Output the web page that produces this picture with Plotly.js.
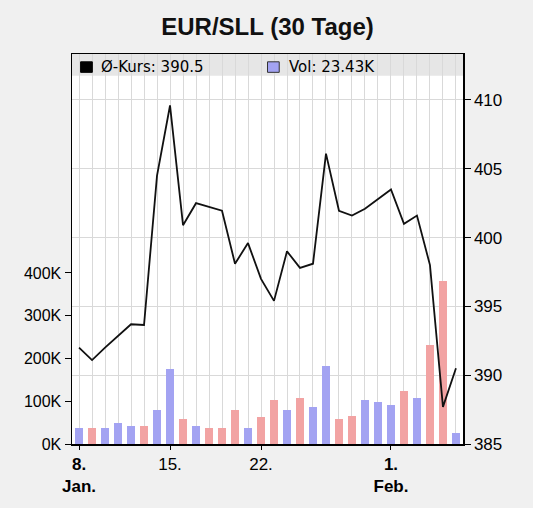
<!DOCTYPE html>
<html>
<head>
<meta charset="utf-8">
<script src="https://cdn.plot.ly/plotly-3.0.1.min.js"></script>
<style>
  body { margin: 0; background: #f0f0f0; }
  #plotly { width: 533px; height: 508px; }
</style>
</head>
<body>
<div id="plotly"></div>
<script>
var days = [
  '2010-01-08', '2010-01-09', '2010-01-10', '2010-01-11', '2010-01-12',
  '2010-01-13', '2010-01-14', '2010-01-15', '2010-01-16', '2010-01-17',
  '2010-01-18', '2010-01-19', '2010-01-20', '2010-01-21', '2010-01-22',
  '2010-01-23', '2010-01-24', '2010-01-25', '2010-01-26', '2010-01-27',
  '2010-01-28', '2010-01-29', '2010-01-30', '2010-01-31', '2010-02-01',
  '2010-02-02', '2010-02-03', '2010-02-04', '2010-02-05', '2010-02-06'
];

var kurs = [
  392.0, 391.1, 392.0, 392.85, 393.7, 393.65, 404.5, 409.6, 400.9, 402.5,
  402.2, 401.95, 398.1, 399.6, 397.0, 395.4, 399.0, 397.8, 398.1, 406.1,
  401.95, 401.6, 402.1, 402.8, 403.5, 401.0, 401.6, 398.0, 387.7, 390.5
];

var vol = [
  36700, 36700, 36700, 49900, 42000, 42000, 78800, 174600, 57700, 42000,
  37400, 37400, 78800, 36700, 62400, 103700, 78800, 107600, 87300, 182500,
  57700, 66300, 103700, 99000, 91200, 124000, 107600, 232300, 382000, 25000
];

var tickDays = ['2010-01-08', '2010-01-15', '2010-01-22', '2010-02-01'];
var tickText = ['<b>8.</b><br><b>Jan.</b>', '15.<br> ', '22.<br> ', '<b>1.</b><br><b>Feb.</b>'];

var kursLabel = 'Ø-Kurs: 390.5';
var volLabel = 'Vol: 23.43K';

// bar colour follows the day's price move
var barColors = kurs.map(function (k, i) {
  return (i === 0 || k > kurs[i - 1]) ? '#a3a3f2' : '#f2a3a3';
});

var volTrace = {
  x: days,
  y: vol,
  type: 'bar',
  width: 0.6 * 86400000,
  marker: { color: barColors },
  yaxis: 'y',
  hoverinfo: 'skip'
};

var kursTrace = {
  x: days,
  y: kurs,
  type: 'scatter',
  mode: 'lines',
  line: { color: '#111111', width: 1.8 },
  yaxis: 'y2',
  hoverinfo: 'skip'
};

var font = { family: 'Liberation Sans, Arial, sans-serif', size: 16, color: '#000' };
var legendFont = { family: 'DejaVu Sans, sans-serif', size: 15, color: '#000' };

var layout = {
  width: 533,
  height: 508,
  margin: { l: 72, r: 70, t: 54, b: 64 },
  paper_bgcolor: '#f0f0f0',
  plot_bgcolor: '#ffffff',
  showlegend: false,
  font: font,
  title: {
    text: '<b>EUR/SLL (30 Tage)</b>',
    font: { family: 'Liberation Sans, Arial, sans-serif', size: 24, color: '#111' },
    x: 0.5, xref: 'paper', xanchor: 'center',
    y: 0.947, yanchor: 'middle'
  },
  xaxis: {
    type: 'date',
    range: ['2010-01-07 11:00', '2010-02-06 13:00'],
    tickvals: tickDays,
    ticktext: tickText,
    ticks: 'outside',
    ticklen: 4,
    tickcolor: '#000',
    showgrid: true,
    gridcolor: '#d9d9d9',
    minor: { dtick: 86400000, tick0: '2010-01-08', showgrid: true, gridcolor: '#d9d9d9', ticks: '' },
    showline: true,
    linecolor: '#000',
    linewidth: 1.5,
    mirror: true,
    tickfont: { family: 'Liberation Sans, Arial, sans-serif', size: 17, color: '#000' },
    fixedrange: true
  },
  yaxis: {
    range: [0, 912000],
    tickvals: [0, 100000, 200000, 300000, 400000],
    ticktext: ['0K', '100K', '200K', '300K', '400K'],
    ticks: 'outside',
    ticklen: 6,
    tickcolor: '#000',
    showgrid: false,
    zeroline: false,
    showline: true,
    linecolor: '#000',
    linewidth: 1.5,
    tickfont: font,
    fixedrange: true
  },
  yaxis2: {
    overlaying: 'y',
    side: 'right',
    range: [385, 413.34],
    tickvals: [385, 390, 395, 400, 405, 410],
    ticks: 'outside',
    ticklen: 6,
    tickcolor: '#000',
    showgrid: true,
    gridcolor: '#d9d9d9',
    zeroline: false,
    showline: true,
    linecolor: '#000',
    linewidth: 1.5,
    tickfont: { family: 'Liberation Sans, Arial, sans-serif', size: 17, color: '#000' },
    fixedrange: true
  },
  shapes: [
    // legend band at the top of the plot
    { type: 'rect', xref: 'paper', yref: 'paper', x0: 0, x1: 1, y0: 0.944, y1: 1,
      fillcolor: '#e6e6e6', line: { width: 0 }, layer: 'below' },
    { type: 'rect', xref: 'paper', yref: 'paper', x0: 0.022, x1: 0.052, y0: 0.953, y1: 0.98,
      fillcolor: '#000', line: { color: '#000', width: 1 } },
    { type: 'rect', xref: 'paper', yref: 'paper', x0: 0.5, x1: 0.53, y0: 0.953, y1: 0.98,
      fillcolor: '#a3a3f2', line: { color: '#333', width: 1 } }
  ],
  annotations: [
    { text: kursLabel, xref: 'paper', yref: 'paper', x: 0.07, y: 0.967,
      xanchor: 'left', yanchor: 'middle', showarrow: false, font: legendFont },
    { text: volLabel, xref: 'paper', yref: 'paper', x: 0.55, y: 0.967,
      xanchor: 'left', yanchor: 'middle', showarrow: false, font: legendFont }
  ],
  bargap: 0
};

Plotly.newPlot('plotly', [volTrace, kursTrace], layout, { displayModeBar: false, staticPlot: true });
</script>
</body>
</html>
